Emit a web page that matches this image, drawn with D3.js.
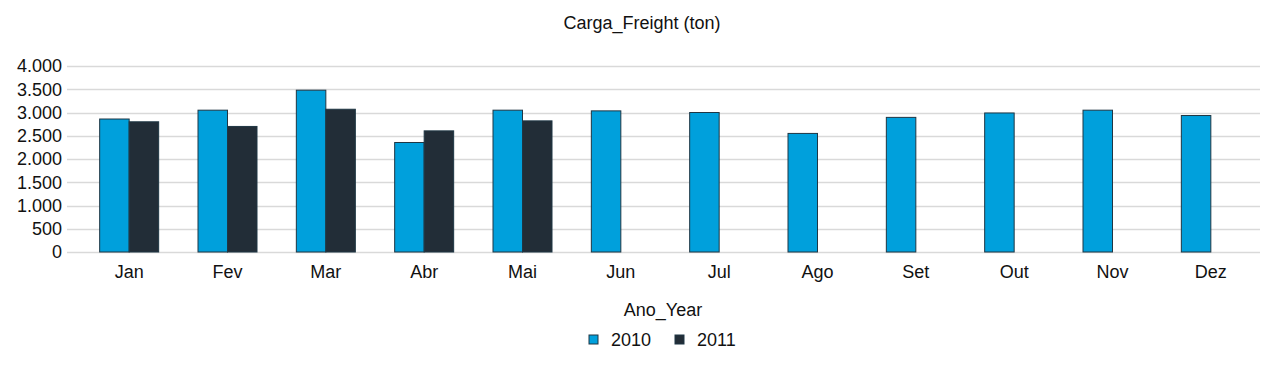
<!DOCTYPE html>
<html lang="en">
<head>
	<meta charset="UTF-8">
	<title>Carga_Freight (ton)</title>
	<script src="https://cdn.jsdelivr.net/npm/d3@7"></script>
	<style>
		body { margin: 0; background: #fff; }
		text { font-family: "Liberation Sans", Arial, sans-serif; fill: #111; }
	</style>
</head>
<body>
	<div id="chart"></div>
</body>
<script>

const months = ['Jan','Fev','Mar','Abr','Mai','Jun','Jul','Ago','Set','Out','Nov','Dez'];
const years = ['2010','2011'];
const values2010 = [2860, 3050, 3480, 2355, 3050, 3035, 3000, 2550, 2895, 2990, 3050, 2935];
const values2011 = [2800, 2700, 3070, 2605, 2820, null, null, null, null, null, null, null];
const yTicks = [0, 500, 1000, 1500, 2000, 2500, 3000, 3500, 4000];
const colors = ['#00a0dc', '#222d37'];

const width = 1281, height = 371;
const margin = {top: 66, right: 21, bottom: 119, left: 80};
const fontSize = 18;

const svg = d3.select('#chart').append('svg')
	.attr('width', width)
	.attr('height', height);

const x = d3.scaleBand()
	.domain(months)
	.range([margin.left, width - margin.right])
	.paddingInner(0.4)
	.paddingOuter(0.2);

const xSub = d3.scaleBand()
	.domain(years)
	.range([0, x.bandwidth()]);

const y = d3.scaleLinear()
	.domain([0, 4000])
	.range([height - margin.bottom, margin.top]);

const fmt = d3.formatLocale({decimal: ',', thousands: '.', grouping: [3], currency: ['', '']}).format(',d');

// grid
svg.append('g')
	.selectAll('line')
	.data(yTicks)
	.join('line')
	.attr('x1', 67)
	.attr('x2', width - margin.right)
	.attr('y1', d => Math.round(y(d)) + 0.5)
	.attr('y2', d => Math.round(y(d)) + 0.5)
	.attr('stroke', '#d9d9d9')
	.attr('stroke-width', 1.3);

// y axis labels
const yAxis = svg.append('g')
	.attr('transform', `translate(67,0)`)
	.call(d3.axisLeft(y).tickValues(yTicks).tickFormat(fmt).tickSize(0).tickPadding(5));
yAxis.select('.domain').remove();
yAxis.selectAll('text').attr('font-size', fontSize).attr('fill', '#111')
	.style('font-family', '"Liberation Sans", Arial, sans-serif');

// x axis labels
const xAxis = svg.append('g')
	.attr('transform', `translate(0,${height - margin.bottom})`)
	.call(d3.axisBottom(x).tickSize(0).tickPadding(13));
xAxis.select('.domain').remove();
xAxis.selectAll('text').attr('font-size', fontSize).attr('fill', '#111')
	.style('font-family', '"Liberation Sans", Arial, sans-serif');

// bars
const rows = months.map((m, i) => ({month: m, vals: [values2010[i], values2011[i]]}));

svg.append('g')
	.selectAll('g')
	.data(rows)
	.join('g')
	.attr('transform', d => `translate(${x(d.month)},0)`)
	.selectAll('rect')
	.data(d => d.vals.map((v, j) => ({year: years[j], value: v, idx: j})).filter(e => e.value != null))
	.join('rect')
	.attr('x', d => xSub(d.year))
	.attr('y', d => y(d.value))
	.attr('width', xSub.bandwidth())
	.attr('height', d => y(0) - y(d.value))
	.attr('fill', d => colors[d.idx])
	.attr('stroke', '#1f3644')
	.attr('stroke-width', 1);

// title
svg.append('text')
	.attr('x', 642)
	.attr('y', 29)
	.attr('text-anchor', 'middle')
	.attr('font-size', fontSize)
	.text('Carga_Freight (ton)');

// legend title
svg.append('text')
	.attr('x', 663)
	.attr('y', 316)
	.attr('text-anchor', 'middle')
	.attr('font-size', fontSize)
	.text('Ano_Year');

const legend = svg.append('g')
	.selectAll('g')
	.data(years)
	.join('g')
	.attr('transform', (d, i) => `translate(${589 + i * 86},335)`);

legend.append('rect')
	.attr('width', 9)
	.attr('height', 9)
	.attr('fill', (d, i) => colors[i])
	.attr('stroke', '#1f3644')
	.attr('stroke-width', 1);

legend.append('text')
	.attr('x', 22)
	.attr('y', 11)
	.attr('font-size', fontSize)
	.text(d => d);

</script>
</html>
